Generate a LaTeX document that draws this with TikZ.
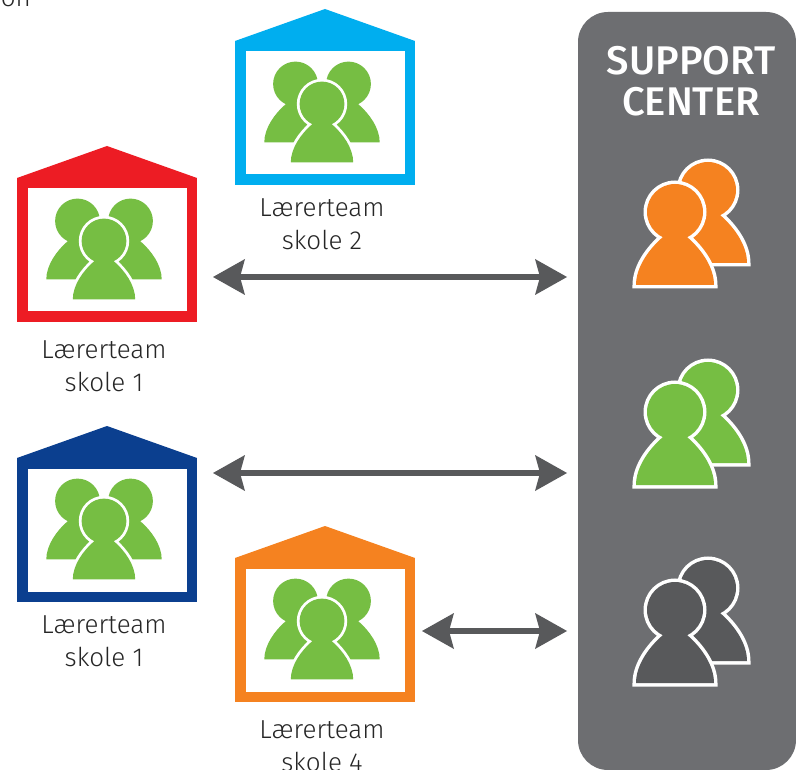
\documentclass[tikz,border=0pt]{standalone}
\usepackage{fontspec}
\usetikzlibrary{arrows.meta}
\setmainfont{Fira Sans Light}
\newfontfamily\titlefont{Fira Sans Medium}
\definecolor{cred}{HTML}{ED1C24}
\definecolor{ccyan}{HTML}{00AEEF}
\definecolor{cnavy}{HTML}{0B3F8F}
\definecolor{corange}{HTML}{F58220}
\definecolor{cgreen}{HTML}{76BE43}
\definecolor{cdark}{HTML}{58595B}
\definecolor{cpanel}{HTML}{6D6E71}
\newcommand\onefigure[4]{%
  \begin{scope}[shift={(#1,#2)},scale=#3]
    \path[draw=white,line width=#3*7pt,miter limit=3]
      (0,0) circle (28)
      (-12,25) .. controls (-26,37) and (-39,55) .. (-39,73) -- (39,73) .. controls (39,55) and (26,37) .. (12,25) -- cycle;
    \fill[#4] (0,0) circle (28);
    \fill[#4] (-13,20) -- (-12,25) .. controls (-26,37) and (-39,55) .. (-39,73) -- (39,73) .. controls (39,55) and (26,37) .. (12,25) -- (13,20) -- cycle;
  \end{scope}}
\newcommand\twofigures[3]{%
  \onefigure{#1+33}{#2-22}{1}{#3}
  \onefigure{#1}{#2}{1}{#3}}
\newcommand\threefigures[2]{%
  \onefigure{#1-26.5}{#2-20}{.8}{cgreen}
  \onefigure{#1+26.5}{#2-20}{.8}{cgreen}
  \onefigure{#1}{#2}{.8}{cgreen}}
\newcommand\house[4]{%
  \fill[#4] (#2,#3) -- (#2+90,#3-32) -- (#2+180,#3) -- cycle;
  \node[schoolframe,draw=#4] (#1) at (#2+90,#3+72) {};
  \threefigures{#2+87}{#3+63}}
\tikzset{
  schoolframe/.style={draw,line width=10.5pt,minimum width=169.5pt,minimum height=133.5pt,inner sep=0pt,outer sep=0pt,fill=white},
  teamlabel/.style={font=\fontsize{26}{33}\selectfont,text=black!85,align=center,inner sep=0pt},
  panellabel/.style={font=\titlefont\fontsize{40}{41}\selectfont,text=white,align=center,inner sep=0pt},
  twoway/.style={draw=cdark,line width=6pt,{Stealth[length=32pt,width=36pt,inset=5pt,line width=0pt]}-{Stealth[length=32pt,width=36pt,inset=5pt,line width=0pt]},shorten <=0pt,shorten >=0pt},
}
\begin{document}
\begin{tikzpicture}[x=1pt,y=-1pt]
\clip (0,0) rectangle (796,770);
\fill[white] (0,0) rectangle (796,770);
\node[teamlabel,anchor=base east] (cut) at (31,7) {on};
\node[fill=cpanel,rounded corners=30pt,minimum width=218pt,minimum height=758pt,inner sep=0pt,outer sep=0pt] (center) at (687,391) {};
\node[panellabel] (title) at (691,81) {SUPPORT\\CENTER};
\house{skoleA}{17}{178}{cred}
\house{skoleB}{235}{41}{ccyan}
\house{skoleC}{17}{458}{cnavy}
\house{skoleD}{235}{558}{corange}
\node[teamlabel] (labA) at (104,366) {Lærerteam\\skole 1};
\node[teamlabel] (labB) at (322,224) {Lærerteam\\skole 2};
\node[teamlabel] (labC) at (104,641) {Lærerteam\\skole 1};
\node[teamlabel] (labD) at (322,746) {Lærerteam\\skole 4};
\twofigures{675}{212}{corange}
\twofigures{675}{412}{cgreen}
\twofigures{675}{610}{cdark}
\coordinate (a1) at (213,277); \coordinate (b1) at (567,277);
\coordinate (a2) at (213,473); \coordinate (b2) at (567,473);
\coordinate (a3) at (422,631); \coordinate (b3) at (567,631);
\draw[twoway] (a1) -- (b1);
\draw[twoway] (a2) -- (b2);
\draw[twoway] (a3) -- (b3);
\end{tikzpicture}
\end{document}
